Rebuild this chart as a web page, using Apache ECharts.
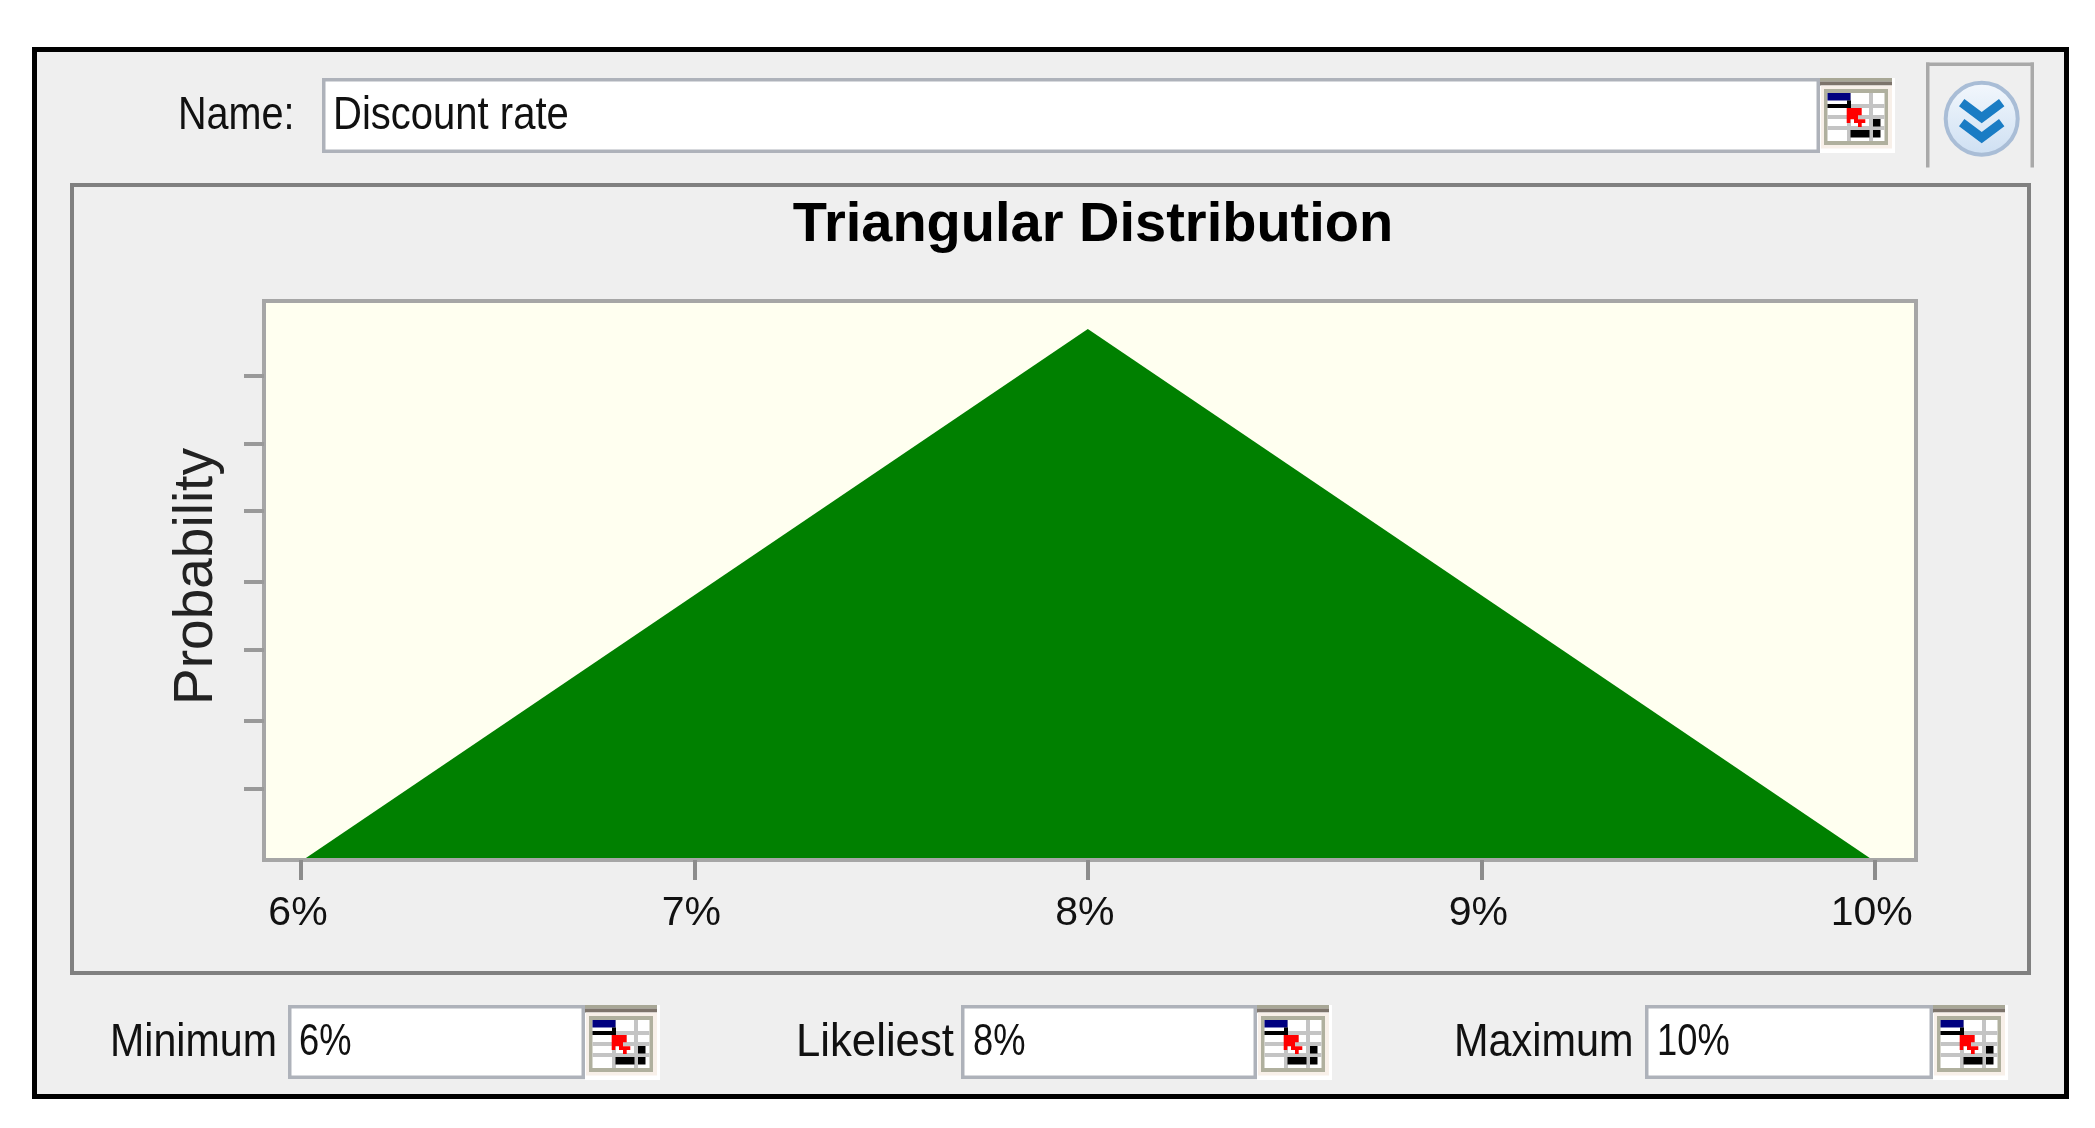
<!DOCTYPE html>
<html><head><meta charset="utf-8">
<style>html,body{margin:0;padding:0;background:#fff}#c{width:2095px;height:1128px}</style>
<script src="https://cdn.jsdelivr.net/npm/echarts@6/dist/echarts.min.js"></script>
</head><body><div id="c"></div>
<script>
const titleText = 'Triangular Distribution';
const yAxisName = 'Probability';
const nameLabel = 'Name:';
const nameValue = 'Discount rate';
const fieldLabels = ['Minimum', 'Likeliest', 'Maximum'];
const fieldValues = ['6%', '8%', '10%'];
const xTickValues = [6, 7, 8, 9, 10];
const yTickValues = [0.0671, 0.1309, 0.1980, 0.2618, 0.3286, 0.3924, 0.4560];
const distX = [6.005, 8, 9.995];
const distY = [0, 0.5, 0];

const FONT = '"Liberation Sans", Arial, sans-serif';
const g = [];
const rect = (x, y, w, h, fill, z) => g.push({type:'rect', z: z ?? -10, silent:true, shape:{x,y,width:w,height:h}, style:{fill}});
const text = (x, y, s, size, sx) => g.push({type:'text', z:-5, silent:true, x, y, scaleX: sx, scaleY: 1,
  style:{text:s, font: size+'px '+FONT, fill:'#111', textAlign:'left', textVerticalAlign:'middle'}});

// window panel
rect(32, 47, 2037, 1052, '#000');
rect(37, 52, 2027, 1042, '#efefef');
// chart group box
rect(70, 183, 1961, 792, '#808080');
rect(74, 187, 1953, 784, '#efefef');

function field(x0, y0, x1, y1) {
  rect(x0, y0, x1 - x0, y1 - y0, '#aeb2ba');
  rect(x0 + 3.5, y0 + 3.5, x1 - x0 - 7, y1 - y0 - 7, '#fff');
}
function icon(ox, oy) {
  const R = (x, y, w, h, c) => rect(ox + x, oy + y, w, h, c, -8);
  R(0, 0, 75, 75, '#ffffff');
  R(0, 0, 72, 3.5, '#a8a796');
  R(0, 3.5, 72, 4, '#7d746b');
  R(1, 7.5, 71, 63, '#f8f0e9');
  R(4, 11, 64, 56, '#b0b09e');
  R(7.5, 15, 57, 48, '#ffffff');
  R(7.5, 26, 57, 4, '#c4c4c4');
  R(7.5, 37, 57, 4, '#c4c4c4');
  R(7.5, 48, 57, 4, '#c4c4c4');
  R(27, 15, 4, 48, '#c4c4c4');
  R(49, 15, 4, 48, '#c4c4c4');
  R(7.5, 15, 23, 7.5, '#000080');
  R(7.5, 26, 23, 4, '#000');
  R(27, 22.5, 4, 7.5, '#000');
  R(53, 41, 7.5, 7.5, '#000');
  R(30.5, 52, 19, 7.5, '#000');
  R(53, 52, 7.5, 7.5, '#000');
  g.push({type:'polygon', z:-7, silent:true, shape:{points:[
    [ox+26.7,oy+30],[ox+41.7,oy+30],[ox+41.7,oy+37.3],[ox+38,oy+37.3],[ox+38,oy+41.3],[ox+45.3,oy+41.3],[ox+45.3,oy+45],
    [ox+41.7,oy+45],[ox+41.7,oy+49],[ox+38,oy+49],[ox+38,oy+45],[ox+34,oy+45],[ox+34,oy+41.3],[ox+30.3,oy+41.3],[ox+30.3,oy+45],[ox+26.7,oy+45]
  ]}, style:{fill:'#ff0000'}});
}

field(322, 78, 1820, 153);
icon(1820, 78);
field(288, 1005, 585, 1079);
icon(585, 1005);
field(961, 1005, 1257, 1079);
icon(1257, 1005);
field(1645, 1005, 1933, 1079);
icon(1933, 1005);

// collapse button frame
rect(1926, 62.5, 108, 3.5, '#a9a9a9');
rect(1926, 62.5, 3.5, 105, '#a9a9a9');
rect(2030.5, 62.5, 3.5, 105, '#a9a9a9');
g.push({type:'circle', z:-8, silent:true, shape:{cx:1981.7, cy:118.7, r:36},
  style:{stroke:'#a9bdd6', lineWidth:4,
    fill:{type:'linear',x:0,y:0,x2:0,y2:1,colorStops:[{offset:0,color:'#f4f8fd'},{offset:1,color:'#cddff2'}]}}});
[-16, 4].forEach(d => g.push({type:'polyline', z:-7, silent:true,
  shape:{points:[[1961.7,118.7+d],[1981.7,118.7+d+15],[2001.7,118.7+d]]},
  style:{stroke:'#1a7cc4', lineWidth:9, fill:null}}));

text(178, 116, nameLabel, 46, 0.86);
text(333, 116, nameValue, 46, 0.87);
const labelX = [110, 796, 1454], valueX = [299, 973, 1657];
const labelScale = [0.895, 0.95, 0.9];
fieldLabels.forEach((s, i) => text(labelX[i], 1043, s, 46, labelScale[i]));
fieldValues.forEach((s, i) => text(valueX[i], 1043, s, 44, 0.825));

const seriesData = distX.map((x, i) => [x, distY[i]]);
const chart = echarts.init(document.getElementById('c'), null, {renderer:'canvas'});
chart.setOption({
  animation:false,
  backgroundColor:'#fff',
  title:{text:titleText, left:1088, top:193, textAlign:'center',
    textStyle:{fontFamily:FONT, fontSize:56, fontWeight:'bold', color:'#000'}},
  grid:{left:264, top:301, width:1652, height:559, show:true, backgroundColor:'#fffff0', borderColor:'#a6a6a6', borderWidth:4},
  xAxis:{type:'value', min:5.906, max:10.105, z:3,
    splitLine:{show:false},
    axisLine:{show:true, onZero:false, lineStyle:{color:'#a6a6a6', width:4}},
    axisTick:{show:true, length:20, customValues:xTickValues, lineStyle:{color:'#8c8c8c', width:4}},
    axisLabel:{show:true, customValues:xTickValues, margin:33, formatter:v=>Math.round(v)+'%', hideOverlap:false,
      showMinLabel:true, showMaxLabel:true, padding:[0,6,0,0],
      fontFamily:FONT, fontSize:41, color:'#111'}},
  yAxis:{type:'value', min:0, max:0.5264, name:yAxisName, nameLocation:'middle', nameGap:40,
    nameTextStyle:{fontFamily:FONT, fontSize:55, color:'#222', padding:[0,0,0,8]},
    splitLine:{show:false},
    axisLine:{show:false},
    axisTick:{show:true, length:20, customValues:yTickValues, lineStyle:{color:'#999', width:4}},
    axisLabel:{show:false}},
  series:[{type:'line', data:seriesData, symbol:'none', silent:true, z:2,
    lineStyle:{width:0, color:'#008000'}, areaStyle:{color:'#008000', opacity:1}}],
  graphic:{elements:g}
});
</script></body></html>
